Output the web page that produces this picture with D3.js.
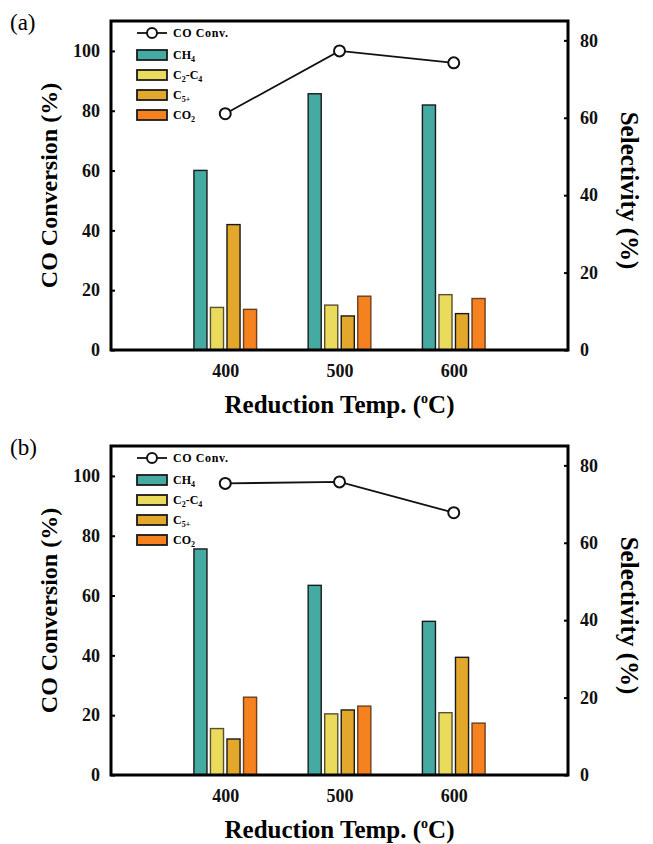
<!DOCTYPE html>
<html>
<head>
<meta charset="utf-8">
<script src="https://cdn.jsdelivr.net/npm/d3@7"></script>
<style>
  body { margin: 0; background: #fff; }
  text { font-family: "Liberation Serif", "Times New Roman", serif; }
</style>
</head>
<body>
<div id="chart"></div>
<script>
// data
var temps = [400, 500, 600];
var seriesKeys = ["CH4", "C2C4", "C5", "CO2"];

// panel (a)
var convA = [79, 100, 96];
var ch4A = [46.4, 66.2, 63.3];
var c2c4A = [11.0, 11.6, 14.3];
var c5A = [32.4, 8.8, 9.4];
var co2A = [10.5, 13.9, 13.3];

// panel (b)
var convB = [97.5, 98, 87.7];
var ch4B = [58.4, 49.0, 39.7];
var c2c4B = [12.0, 15.8, 16.1];
var c5B = [9.3, 16.8, 30.4];
var co2B = [20.1, 17.8, 13.4];

var leftTicks = [0, 20, 40, 60, 80, 100];
var rightTicks = [0, 20, 40, 60, 80];

var colors = { CH4: "#44aaa2", C2C4: "#ebdb5c", C5: "#e3a82b", CO2: "#f5821f" };
var strokes = { CH4: "#1a1a1a", C2C4: "#5a5030", C5: "#1a1a1a", CO2: "#6a4020" };

// legend labels: [text, "sub" or ""]
var legendLabels = {
  CH4: [["CH", ""], ["4", "sub"]],
  C2C4: [["C", ""], ["2", "sub"], ["-C", ""], ["4", "sub"]],
  C5: [["C", ""], ["5+", "sub"]],
  CO2: [["CO", ""], ["2", "sub"]]
};

var svgWidth = 653;
var svgHeight = 844;

var svg = d3
  .select("#chart")
  .append("svg")
  .attr("width", svgWidth)
  .attr("height", svgHeight);

var plotLeft = 111;
var plotRight = 568;
var plotTop = 21;
var plotBottom = 350;

var x = d3.scaleLinear().domain([300, 700]).range([plotLeft, plotRight]);
var yL = d3.scaleLinear().domain([0, 110]).range([plotBottom, plotTop]);
var yR = d3.scaleLinear().domain([0, 85]).range([plotBottom, plotTop]);
var sub = d3.scaleBand().domain(seriesKeys).range([-33, 33]).paddingInner(0.21).paddingOuter(0.1);

function drawPanel(offsetY, label, conv, sel) {
  var g = svg.append("g").attr("transform", `translate(0, ${offsetY})`);

  // bars (selectivity, right axis)
  seriesKeys.forEach(function (key, i) {
    g.selectAll("rect.bar-" + key)
      .data(temps.map((t, j) => ({ t: t, v: sel[i][j] })))
      .enter()
      .append("rect")
      .attr("class", "bar-" + key)
      .attr("x", (d) => x(d.t) + sub(key))
      .attr("y", (d) => yR(d.v))
      .attr("width", sub.bandwidth())
      .attr("height", (d) => yR(0) - yR(d.v))
      .attr("fill", colors[key])
      .attr("stroke", strokes[key])
      .attr("stroke-width", 1.4);
  });

  // frame
  g.append("rect")
    .attr("x", plotLeft)
    .attr("y", plotTop)
    .attr("width", plotRight - plotLeft)
    .attr("height", plotBottom - plotTop)
    .attr("fill", "none")
    .attr("stroke", "#000")
    .attr("stroke-width", 3);

  // axes
  var left = g.append("g")
    .attr("transform", `translate(${plotLeft}, 0)`)
    .call(d3.axisLeft(yL).tickValues(leftTicks).tickSizeInner(-4).tickSizeOuter(0).tickPadding(11));
  var right = g.append("g")
    .attr("transform", `translate(${plotRight}, 0)`)
    .call(d3.axisRight(yR).tickValues(rightTicks).tickSizeInner(-4).tickSizeOuter(0).tickPadding(12));
  var bottom = g.append("g")
    .attr("transform", `translate(0, ${plotBottom})`)
    .call(d3.axisBottom(x).tickValues(temps).tickSize(0).tickPadding(14).tickFormat(d3.format("d")));

  [left, right, bottom].forEach(function (ax) {
    ax.select(".domain").remove();
    ax.selectAll("line").attr("stroke", "#000").attr("stroke-width", 2);
    ax.selectAll("text")
      .attr("font-family", "Liberation Serif, serif")
      .attr("font-weight", "bold")
      .attr("font-size", "18px")
      .attr("fill", "#111");
  });

  // conversion line (left axis)
  var line = d3.line()
    .x((d, j) => x(temps[j]))
    .y((d) => yL(d));
  g.append("path")
    .datum(conv)
    .attr("d", line)
    .attr("fill", "none")
    .attr("stroke", "#111")
    .attr("stroke-width", 1.8);
  g.selectAll("circle.conv")
    .data(conv)
    .enter()
    .append("circle")
    .attr("class", "conv")
    .attr("cx", (d, j) => x(temps[j]))
    .attr("cy", (d) => yL(d))
    .attr("r", 5.5)
    .attr("fill", "#fff")
    .attr("stroke", "#111")
    .attr("stroke-width", 2);

  // legend
  var lg = g.append("g").attr("transform", "translate(137, 33)");
  lg.append("line")
    .attr("x1", 0).attr("x2", 30).attr("y1", 0).attr("y2", 0)
    .attr("stroke", "#111").attr("stroke-width", 1.8);
  lg.append("circle")
    .attr("cx", 15).attr("cy", 0).attr("r", 5)
    .attr("fill", "#fff").attr("stroke", "#111").attr("stroke-width", 2);
  lg.append("text")
    .attr("x", 36).attr("y", 4)
    .attr("font-size", "12px").attr("font-weight", "bold")
    .attr("letter-spacing", "0.6px")
    .text("CO Conv.");

  seriesKeys.forEach(function (key, i) {
    var yy = 17 + i * 20;
    lg.append("rect")
      .attr("x", 0).attr("y", yy)
      .attr("width", 30).attr("height", 10)
      .attr("fill", colors[key])
      .attr("stroke", "#1a1a1a")
      .attr("stroke-width", 1.8);
    var t = lg.append("text")
      .attr("x", 36).attr("y", yy + 9)
      .attr("font-size", "12px").attr("font-weight", "bold");
    legendLabels[key].forEach(function (p) {
      var ts = t.append("tspan").text(p[0]);
      if (p[1] === "sub") ts.attr("font-size", "8px").attr("dy", 3);
      else if (ts.node().previousSibling) ts.attr("dy", -3);
    });
  });

  // axis titles
  g.append("text")
    .attr("transform", `translate(57, ${(plotTop + plotBottom) / 2}) rotate(-90)`)
    .attr("text-anchor", "middle")
    .attr("font-size", "24px")
    .attr("font-weight", "bold")
    .text("CO Conversion (%)");

  g.append("text")
    .attr("transform", `translate(621, ${(plotTop + plotBottom) / 2 + 5}) rotate(90)`)
    .attr("text-anchor", "middle")
    .attr("font-size", "25px")
    .attr("font-weight", "bold")
    .text("Selectivity (%)");

  var xt = g.append("text")
    .attr("x", (plotLeft + plotRight) / 2)
    .attr("y", 413)
    .attr("text-anchor", "middle")
    .attr("font-size", "25px")
    .attr("font-weight", "bold");
  xt.append("tspan").text("Reduction Temp. (");
  xt.append("tspan").text("o").attr("font-size", "14px").attr("dy", -10);
  xt.append("tspan").text("C)").attr("dy", 10);

  // panel label
  g.append("text")
    .attr("x", 10)
    .attr("y", 30)
    .attr("font-size", "23px")
    .text(label);
}

drawPanel(0, "(a)", convA, [ch4A, c2c4A, c5A, co2A]);
drawPanel(425, "(b)", convB, [ch4B, c2c4B, c5B, co2B]);
</script>
</body>
</html>
